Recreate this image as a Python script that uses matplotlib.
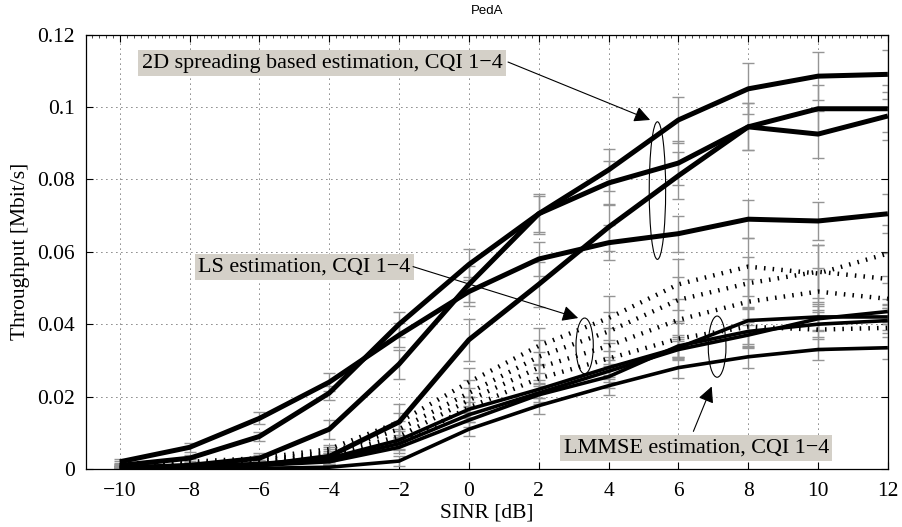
import matplotlib
matplotlib.use("Agg")
import matplotlib.pyplot as plt
from matplotlib.patches import Ellipse
from matplotlib.ticker import MultipleLocator

# ---------------- data ----------------
sinr = [-10, -8, -6, -4, -2, 0, 2, 4, 6, 8, 10, 12]

# 2D spreading based estimation, CQI 1-4
spread_a = [0.002, 0.006, 0.014, 0.024, 0.037, 0.049, 0.058, 0.0625, 0.065, 0.069, 0.0685, 0.0705]
spread_b = [0.001, 0.003, 0.009, 0.021, 0.040, 0.0565, 0.0705, 0.0826, 0.0964, 0.105, 0.1085, 0.109]
spread_c = [0.0003, 0.001, 0.003, 0.011, 0.029, 0.051, 0.0705, 0.079, 0.0845, 0.0945, 0.0995, 0.0995]
spread_d = [0.0, 0.0003, 0.001, 0.0035, 0.013, 0.0357, 0.051, 0.0668, 0.081, 0.0945, 0.0925, 0.0975]
spread_a_err = [0.0009, 0.0012, 0.0017, 0.0024, 0.0032, 0.0040, 0.0046, 0.0049, 0.0050, 0.0053, 0.0053, 0.0054]
spread_b_err = [0.0008, 0.0010, 0.0013, 0.0020, 0.0034, 0.0042, 0.0050, 0.0058, 0.0064, 0.0070, 0.0067, 0.0068]
spread_c_err = [0.0005, 0.0008, 0.0015, 0.0026, 0.0040, 0.0050, 0.0055, 0.0060, 0.0060, 0.0065, 0.0065, 0.0065]
spread_d_err = [0.0005, 0.0008, 0.0015, 0.0025, 0.0050, 0.0058, 0.0062, 0.0065, 0.0065, 0.0065, 0.0065, 0.0065]

# LS estimation, CQI 1-4
ls_1 = [0.0015, 0.002, 0.003, 0.0055, 0.013, 0.024, 0.034, 0.0417, 0.051, 0.0559, 0.054, 0.0595]
ls_2 = [0.001, 0.0015, 0.0025, 0.0045, 0.011, 0.021, 0.031, 0.038, 0.0467, 0.0513, 0.0545, 0.0525]
ls_3 = [0.0008, 0.001, 0.002, 0.004, 0.009, 0.019, 0.028, 0.034, 0.0412, 0.0462, 0.049, 0.047]
ls_4 = [0.0005, 0.0008, 0.0015, 0.0035, 0.007, 0.017, 0.025, 0.0305, 0.036, 0.0393, 0.0385, 0.039]
ls_1_err = [0.0006, 0.0007, 0.0008, 0.0012, 0.0025, 0.0040, 0.0050, 0.0060, 0.0070, 0.0080, 0.0080, 0.0080]
ls_2_err = [0.0005, 0.0006, 0.0007, 0.0011, 0.0022, 0.0036, 0.0046, 0.0055, 0.0064, 0.0072, 0.0074, 0.0072]
ls_3_err = [0.0005, 0.0005, 0.0006, 0.0010, 0.0020, 0.0033, 0.0042, 0.0050, 0.0058, 0.0064, 0.0066, 0.0064]
ls_4_err = [0.0004, 0.0005, 0.0006, 0.0009, 0.0018, 0.0030, 0.0038, 0.0044, 0.0050, 0.0055, 0.0055, 0.0055]

# LMMSE estimation, CQI 1-4
lmmse_1 = [0.0005, 0.001, 0.0015, 0.003, 0.008, 0.0165, 0.022, 0.028, 0.0335, 0.041, 0.042, 0.042]
lmmse_2 = [0.0004, 0.0008, 0.0012, 0.0025, 0.007, 0.015, 0.021, 0.027, 0.033, 0.037, 0.0415, 0.0435]
lmmse_3 = [0.0003, 0.0006, 0.001, 0.002, 0.006, 0.0135, 0.0205, 0.0255, 0.034, 0.038, 0.040, 0.041]
lmmse_4 = [0.0, 0.0001, 0.0002, 0.0005, 0.0022, 0.011, 0.0175, 0.023, 0.028, 0.031, 0.033, 0.0335]
lmmse_1_err = [0.0004, 0.0006, 0.0008, 0.0010, 0.0015, 0.0020, 0.0025, 0.0030, 0.0030, 0.0035, 0.0035, 0.0035]
lmmse_2_err = [0.0004, 0.0006, 0.0008, 0.0010, 0.0015, 0.0020, 0.0025, 0.0030, 0.0030, 0.0035, 0.0035, 0.0035]
lmmse_3_err = [0.0004, 0.0006, 0.0008, 0.0010, 0.0015, 0.0020, 0.0025, 0.0030, 0.0030, 0.0035, 0.0035, 0.0035]
lmmse_4_err = [0.0003, 0.0004, 0.0005, 0.0008, 0.0015, 0.0020, 0.0022, 0.0025, 0.0028, 0.0030, 0.0030, 0.0030]

title = "PedA"
xlabel = "SINR [dB]"
ylabel = "Throughput [Mbit/s]"
label_2d = "2D spreading based estimation, CQI 1\u22124"
label_ls = "LS estimation, CQI 1\u22124"
label_lmmse = "LMMSE estimation, CQI 1\u22124"

# ---------------- figure ----------------
serif = ["Liberation Serif", "DejaVu Serif"]
plt.rcParams["font.family"] = serif
plt.rcParams["axes.unicode_minus"] = True

fig = plt.figure(figsize=(9.03, 5.27), dpi=100)
ax = fig.add_axes([0.0952, 0.110, 0.888, 0.8245])

err_color = "#959595"
cap = 4.5

groups = [
    ([spread_a, spread_b, spread_c, spread_d],
     [spread_a_err, spread_b_err, spread_c_err, spread_d_err],
     dict(color="black", lw=3.6, ls="-", solid_capstyle="butt")),
    ([lmmse_1, lmmse_2, lmmse_3, lmmse_4],
     [lmmse_1_err, lmmse_2_err, lmmse_3_err, lmmse_4_err],
     dict(color="black", lw=2.6, ls="-", solid_capstyle="butt")),
    ([ls_1, ls_2, ls_3, ls_4],
     [ls_1_err, ls_2_err, ls_3_err, ls_4_err],
     dict(color="black", lw=3.2, ls=(0, (0.35, 1.6)), dash_capstyle="butt")),
]

for series, errs, style in groups:
    for y, e in zip(series, errs):
        ax.errorbar(sinr, y, yerr=e, fmt="none", ecolor=err_color,
                    elinewidth=1.0, capsize=cap, capthick=1.0, zorder=2)
for series, errs, style in groups:
    for y in series:
        ax.plot(sinr, y, zorder=3, **style)

ax.set_xlim(-10.97, 12)
ax.set_ylim(0, 0.12)
ax.set_xticks(sinr)
ax.set_yticks([0, 0.02, 0.04, 0.06, 0.08, 0.1, 0.12])
ax.set_yticklabels(["0", "0.02", "0.04", "0.06", "0.08", "0.1", "0.12"])
ax.set_xticklabels([("\u2212%d" % -v) if v < 0 else str(v) for v in sinr])
ax.tick_params(axis="both", which="major", direction="in", length=5, width=0.8,
               top=True, right=True, labelsize=15.5)
ax.tick_params(axis="x", which="major", pad=9)
ax.tick_params(axis="y", which="major", pad=8)
ax.xaxis.set_minor_locator(MultipleLocator(0.2))
ax.tick_params(axis="x", which="minor", direction="in", length=2, width=0.5,
               top=True, bottom=False)
ax.grid(True, which="major", color="black", linestyle=(0, (1, 5)), linewidth=0.6)
for s in ax.spines.values():
    s.set_linewidth(0.9)

ax.set_xlabel(xlabel, fontsize=15.5, labelpad=2)
ax.set_ylabel(ylabel, fontsize=15.5, labelpad=5)
ax.set_title(title, fontsize=9.5, family=["Liberation Sans", "DejaVu Sans"], pad=15)

box = dict(boxstyle="square,pad=0.16", fc="#d4d0c8", ec="none")
arrow = dict(arrowstyle="-|>", mutation_scale=24, lw=0.8, color="black",
             shrinkA=0, shrinkB=0)
afs = 15.9

# 2D spreading annotation
ax.text(-4.2, 0.1121, label_2d, fontsize=afs, ha="center", va="center", bbox=box, zorder=6)
ax.annotate("", xy=(5.19, 0.0964), xytext=(1.12, 0.1124), arrowprops=arrow, zorder=6)
ax.add_patch(Ellipse((5.40, 0.0769), 0.47, 0.038, fill=False, ec="black", lw=0.8, zorder=6))

# LS annotation
ax.text(-4.71, 0.0558, label_ls, fontsize=afs, ha="center", va="center", bbox=box, zorder=6)
ax.annotate("", xy=(3.13, 0.0417), xytext=(-1.6, 0.0559), arrowprops=arrow, zorder=6)
ax.add_patch(Ellipse((3.315, 0.0340), 0.496, 0.0154, fill=False, ec="black", lw=0.8, zorder=6))

# LMMSE annotation
ax.text(6.51, 0.00588, label_lmmse, fontsize=afs, ha="center", va="center", bbox=box, zorder=6)
ax.annotate("", xy=(6.955, 0.0228), xytext=(6.43, 0.0104), arrowprops=arrow, zorder=6)
ax.add_patch(Ellipse((7.11, 0.0338), 0.507, 0.0169, fill=False, ec="black", lw=0.8, zorder=6))

fig.savefig("out.png", dpi=100)
